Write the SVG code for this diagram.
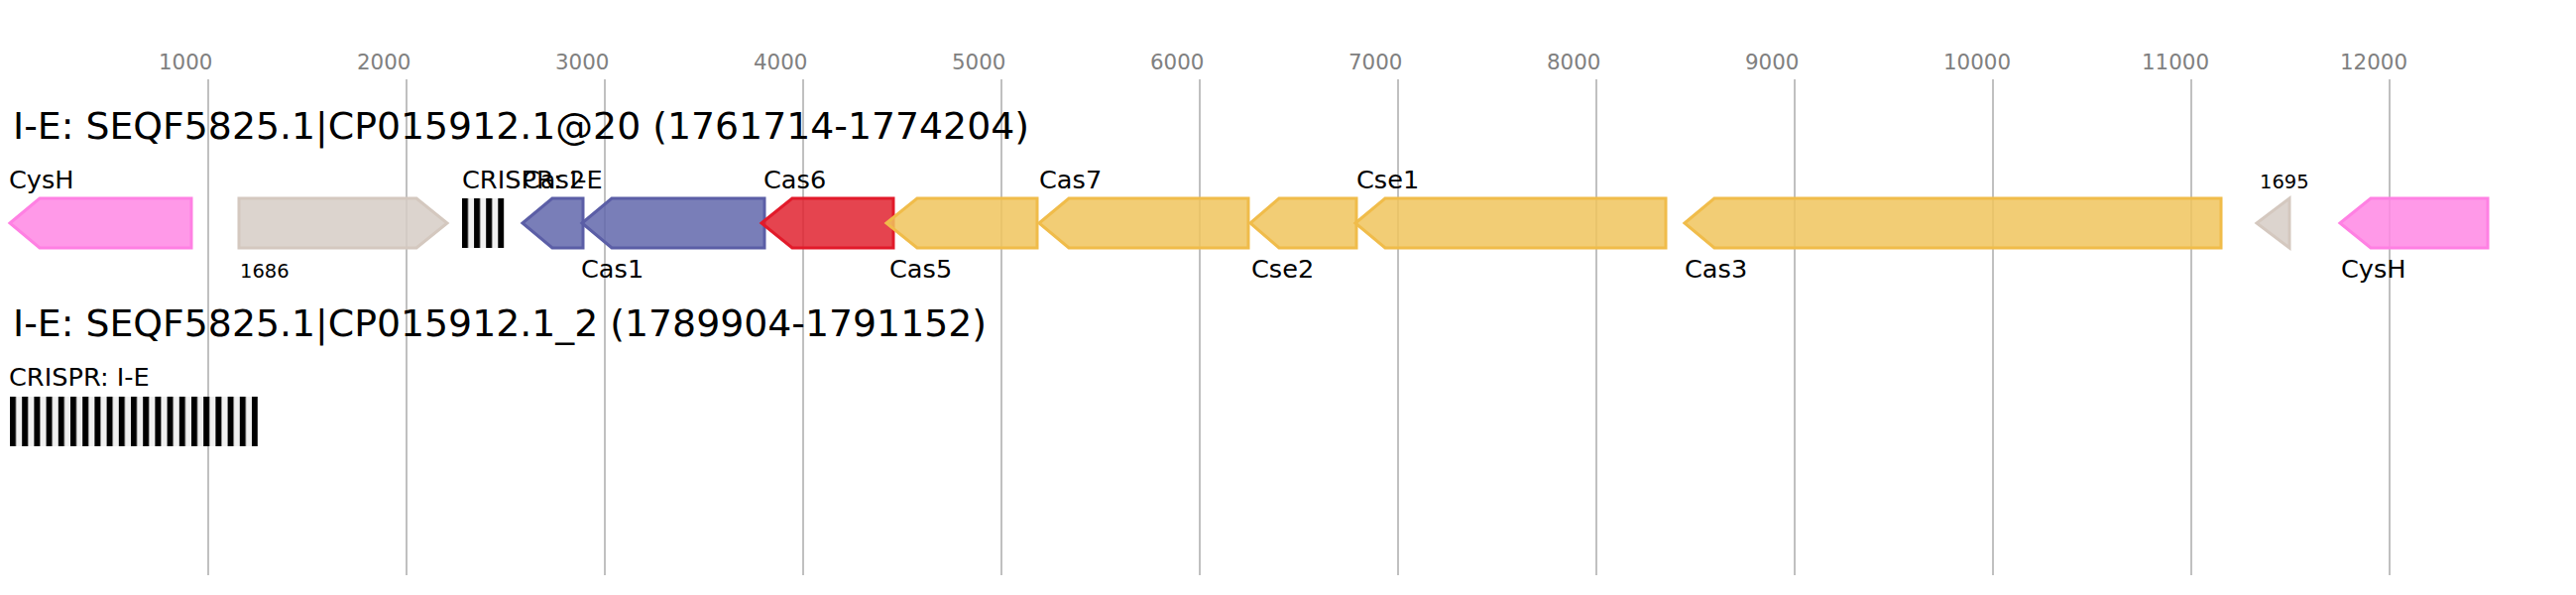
<svg xmlns="http://www.w3.org/2000/svg" width="2598" height="600" viewBox="0 0 2598 600">
<style>
text{font-family:"DejaVu Sans","Liberation Sans",sans-serif;fill:#000}
.ax{font-size:21.4px;fill:#808080}
.grid line{stroke:#c0c0c0;stroke-width:2}
.title{font-size:37.8px}
.lbl{font-size:25.6px}
.sm{font-size:19.5px}
.g{stroke-width:3;fill-opacity:0.85}
.pink{fill:#ff87e4;stroke:#ff80e3}
.beige{fill:#d6ccc6;stroke:#d4c8bf}
.blue{fill:#6267ac;stroke:#5b5ea6}
.red{fill:#e02330;stroke:#e21a2a}
.orange{fill:#f0c45d;stroke:#f0bc4a}
.arr{fill:#f0f0f0}
</style>
<defs>
<pattern id="rep" x="466" y="0" width="12.1" height="50" patternUnits="userSpaceOnUse">
<rect x="0" y="0" width="6" height="50" fill="#000"/>
</pattern>
<pattern id="rep2" x="10" y="0" width="12.2" height="50" patternUnits="userSpaceOnUse">
<rect x="0" y="0" width="6" height="50" fill="#000"/>
</pattern>
</defs>
<rect width="2598" height="600" fill="#fff"/>
<g id="axis">
<g class="grid">
<line x1="210" y1="80" x2="210" y2="580"/>
<line x1="410" y1="80" x2="410" y2="580"/>
<line x1="610" y1="80" x2="610" y2="580"/>
<line x1="810" y1="80" x2="810" y2="580"/>
<line x1="1010" y1="80" x2="1010" y2="580"/>
<line x1="1210" y1="80" x2="1210" y2="580"/>
<line x1="1410" y1="80" x2="1410" y2="580"/>
<line x1="1610" y1="80" x2="1610" y2="580"/>
<line x1="1810" y1="80" x2="1810" y2="580"/>
<line x1="2010" y1="80" x2="2010" y2="580"/>
<line x1="2210" y1="80" x2="2210" y2="580"/>
<line x1="2410" y1="80" x2="2410" y2="580"/>
</g>
<text class="ax" x="160" y="70">1000</text>
<text class="ax" x="360" y="70">2000</text>
<text class="ax" x="560" y="70">3000</text>
<text class="ax" x="760" y="70">4000</text>
<text class="ax" x="960" y="70">5000</text>
<text class="ax" x="1160" y="70">6000</text>
<text class="ax" x="1360" y="70">7000</text>
<text class="ax" x="1560" y="70">8000</text>
<text class="ax" x="1760" y="70">9000</text>
<text class="ax" x="1960" y="70">10000</text>
<text class="ax" x="2160" y="70">11000</text>
<text class="ax" x="2360" y="70">12000</text>
</g>
<text id="title1" class="title" x="13" y="140">I-E: SEQF5825.1|CP015912.1@20 (1761714-1774204)</text>
<g id="cysh1"><polygon class="g pink" points="10,225 40,200 193,200 193,250 40,250"/><text class="lbl" x="9" y="190">CysH</text></g>
<g id="g1686"><polygon class="g beige" points="241,200 420,200 451,225 420,250 241,250"/><text class="sm" x="242" y="280">1686</text></g>
<g id="crispr1"><rect class="arr" x="466" y="200" width="42" height="50"/><rect x="466" y="200" width="42.5" height="50" fill="url(#rep)"/><text class="lbl" x="466" y="190">CRISPR: I-E</text></g>
<g id="cas2"><polygon class="g blue" points="527,225 557,200 588,200 588,250 557,250"/><text class="lbl" x="527" y="190">Cas2</text></g>
<g id="cas1"><polygon class="g blue" points="587,225 617,200 771,200 771,250 617,250"/><text class="lbl" x="586" y="280">Cas1</text></g>
<g id="cas6"><polygon class="g red" points="768,225 799,200 901,200 901,250 799,250"/><text class="lbl" x="770" y="190">Cas6</text></g>
<g id="cas5"><polygon class="g orange" points="894,225 925,200 1046,200 1046,250 925,250"/><text class="lbl" x="897" y="280">Cas5</text></g>
<g id="cas7"><polygon class="g orange" points="1048,225 1078,200 1259,200 1259,250 1078,250"/><text class="lbl" x="1048" y="190">Cas7</text></g>
<g id="cse2"><polygon class="g orange" points="1261,225 1290,200 1368,200 1368,250 1290,250"/><text class="lbl" x="1262" y="280">Cse2</text></g>
<g id="cse1"><polygon class="g orange" points="1367,225 1397,200 1680,200 1680,250 1397,250"/><text class="lbl" x="1368" y="190">Cse1</text></g>
<g id="cas3"><polygon class="g orange" points="1699,225 1729,200 2240,200 2240,250 1729,250"/><text class="lbl" x="1699" y="280">Cas3</text></g>
<g id="g1695"><polygon class="g beige" points="2276,225 2309,200 2309,250"/><text class="sm" x="2279" y="190">1695</text></g>
<g id="cysh2"><polygon class="g pink" points="2360,225 2391,200 2509,200 2509,250 2391,250"/><text class="lbl" x="2361" y="280">CysH</text></g>
<text id="title2" class="title" x="13" y="339">I-E: SEQF5825.1|CP015912.1_2 (1789904-1791152)</text>
<g id="crispr2"><rect class="arr" x="10" y="400" width="250" height="50"/><rect x="10" y="400" width="250" height="50" fill="url(#rep2)"/><text class="lbl" x="9" y="389">CRISPR: I-E</text></g>
<g id="connectors"></g>
</svg>
